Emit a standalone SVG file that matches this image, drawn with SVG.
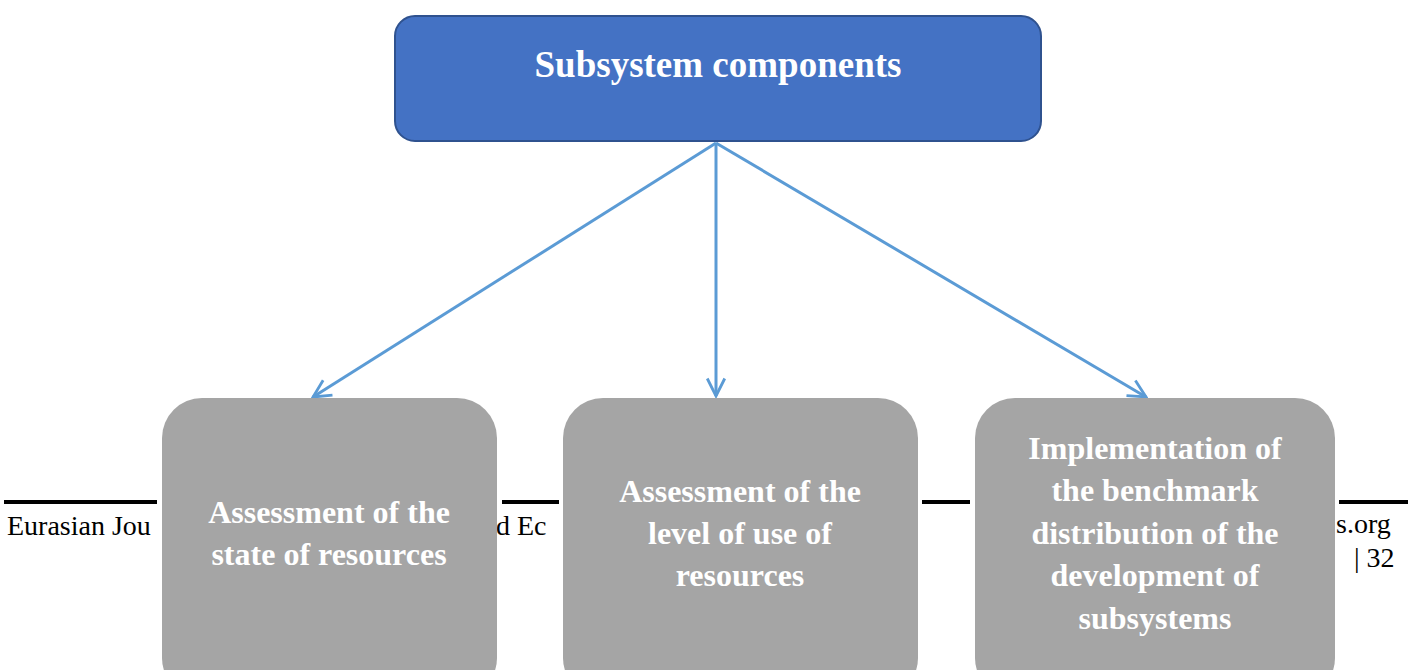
<svg xmlns="http://www.w3.org/2000/svg" width="1424" height="670" viewBox="0 0 1424 670">
<defs>
<style>
.title{font-family:'Liberation Serif','Times New Roman',Times,'DejaVu Serif',serif;font-weight:bold;font-size:37px;fill:#fff}
.lbl{font-family:'Liberation Serif','Times New Roman',Times,'DejaVu Serif',serif;font-weight:bold;font-size:32px;fill:#fff}
.foot{font-family:'Liberation Serif','Times New Roman',Times,'DejaVu Serif',serif;font-size:28px;fill:#000}
.rule{stroke:#000;stroke-width:4}
.conn{stroke:#5B9BD5;stroke-width:3;fill:none}
.gray{fill:#A5A5A5}
</style>
<marker id="arr" viewBox="0 0 12 12" refX="11" refY="6" markerWidth="7" markerHeight="7" orient="auto" markerUnits="strokeWidth">
<path d="M1,1 L11,6 L1,11" fill="none" stroke="#5B9BD5" stroke-width="1.6"/>
</marker>
</defs>
<rect width="1424" height="670" fill="#fff"/>
<g id="footer">
<line class="rule" x1="4" y1="502" x2="157" y2="502"/>
<line class="rule" x1="502" y1="502" x2="559" y2="502"/>
<line class="rule" x1="922" y1="502" x2="970" y2="502"/>
<line class="rule" x1="1339" y1="502" x2="1408" y2="502"/>
<text class="foot" x="7" y="535">Eurasian Jou</text>
<text class="foot" x="496" y="535">d Ec</text>
<text class="foot" x="1336" y="533">s.org</text>
<text class="foot" x="1354" y="567">| 32</text>
</g>
<g id="connectors">
<line class="conn" x1="716" y1="143" x2="313" y2="397" marker-end="url(#arr)"/>
<line class="conn" x1="716" y1="143" x2="716" y2="396" marker-end="url(#arr)"/>
<line class="conn" x1="716" y1="143" x2="1146" y2="397" marker-end="url(#arr)"/>
</g>
<g id="top">
<rect x="395" y="16" width="646" height="125" rx="20" fill="#4472C4" stroke="#2F528F" stroke-width="2"/>
<text class="title" x="718" y="77" text-anchor="middle">Subsystem components</text>
</g>
<g id="box1">
<rect class="gray" x="162" y="398" width="335" height="300" rx="40"/>
<text class="lbl" x="329" y="523" text-anchor="middle">Assessment of the</text>
<text class="lbl" x="329" y="565" text-anchor="middle">state of resources</text>
</g>
<g id="box2">
<rect class="gray" x="563" y="398" width="355" height="300" rx="40"/>
<text class="lbl" x="740" y="502" text-anchor="middle">Assessment of the</text>
<text class="lbl" x="740" y="544" text-anchor="middle">level of use of</text>
<text class="lbl" x="740" y="586" text-anchor="middle">resources</text>
</g>
<g id="box3">
<rect class="gray" x="975" y="398" width="360" height="300" rx="40"/>
<text class="lbl" x="1155" y="459" text-anchor="middle">Implementation of</text>
<text class="lbl" x="1155" y="501" text-anchor="middle">the benchmark</text>
<text class="lbl" x="1155" y="544" text-anchor="middle">distribution of the</text>
<text class="lbl" x="1155" y="586" text-anchor="middle">development of</text>
<text class="lbl" x="1155" y="629" text-anchor="middle">subsystems</text>
</g>
</svg>
